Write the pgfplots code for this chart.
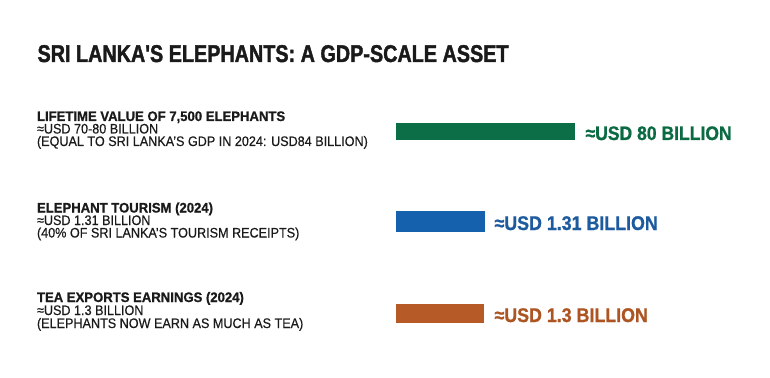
\documentclass[border=0pt]{standalone}
\usepackage{pgfplots}
\pgfplotsset{compat=1.18}
\usepackage{fontspec}
\setmainfont{Liberation Sans}[FakeStretch=0.914, UprightFeatures={FakeBold=0.4}, BoldFeatures={FakeBold=0.9}]
\newfontfamily\boldlbl{Liberation Sans}[FakeStretch=0.95, BoldFeatures={FakeBold=0.9}]
\newfontfamily\valfont{Liberation Sans}[FakeStretch=0.9, BoldFeatures={FakeBold=0.8}]
\newfontfamily\titlefont{Liberation Sans}[FakeStretch=0.818, BoldFeatures={FakeBold=1.6}]
\definecolor{gbar}{HTML}{0B6E47}
\definecolor{bbar}{HTML}{1661AD}
\definecolor{obar}{HTML}{B65A27}
\definecolor{gtxt}{HTML}{0A6A42}
\definecolor{btxt}{HTML}{1D5A9E}
\definecolor{otxt}{HTML}{AD5522}
\definecolor{ink}{HTML}{1A1A1A}
\tikzset{lbl/.style={anchor=base west, inner sep=0pt, outer sep=0pt, text=ink, font=\fontsize{13.8}{14}\selectfont, text height=10pt, text depth=2pt},
         blbl/.style={lbl, font=\boldlbl\fontsize{13.8}{14}\selectfont\bfseries}}
\begin{document}
\begin{tikzpicture}
\fill[white] (0,0) rectangle (770pt,377pt);
\begin{axis}[
  at={(0pt,0pt)}, anchor=south west,
  scale only axis, width=770pt, height=377pt,
  xmin=-396, xmax=374, ymin=0, ymax=377, y dir=reverse,
  axis lines=none, clip=false,
  every node/.style={inner sep=0pt, outer sep=0pt},
]
% bars (visual lengths as drawn in the infographic)
\addplot[xbar, bar shift=0pt, bar width=17pt, fill=gbar, draw=none] coordinates {(179,131.5)};
\addplot[xbar, bar shift=0pt, bar width=21pt, fill=bbar, draw=none] coordinates {(89,221)};
\addplot[xbar, bar shift=0pt, bar width=19pt, fill=obar, draw=none] coordinates {(88,313)};
% title
\node[anchor=base west, text=ink, font=\titlefont\fontsize{24.2}{26}\selectfont\bfseries] at (axis cs:-362,62) {SRI LANKA'S ELEPHANTS: A GDP-SCALE ASSET};
% block 1
\node[blbl] at (axis cs:-359,121) {LIFETIME VALUE OF 7,500 ELEPHANTS};
\node[lbl] at (axis cs:-359,133.5) {≈USD 70-80 BILLION};
\node[lbl] at (axis cs:-359,146) {(EQUAL TO SRI LANKA'S GDP IN 2024: USD84 BILLION)};
% block 2
\node[blbl] at (axis cs:-359,212.5) {ELEPHANT TOURISM (2024)};
\node[lbl] at (axis cs:-359,225) {≈USD 1.31 BILLION};
\node[lbl] at (axis cs:-359,237.5) {(40\% OF SRI LANKA'S TOURISM RECEIPTS)};
% block 3
\node[blbl] at (axis cs:-359,302) {TEA EXPORTS EARNINGS (2024)};
\node[lbl] at (axis cs:-359,315) {≈USD 1.3 BILLION};
\node[lbl] at (axis cs:-359,328) {(ELEPHANTS NOW EARN AS MUCH AS TEA)};
% value labels
\node[anchor=base west, text=gtxt, font=\valfont\fontsize{19.5}{21}\selectfont\bfseries] at (axis cs:186,140) {≈USD 80 BILLION};
\node[anchor=base west, text=btxt, font=\valfont\fontsize{19.8}{21}\selectfont\bfseries] at (axis cs:95,230) {≈USD 1.31 BILLION};
\node[anchor=base west, text=otxt, font=\valfont\fontsize{19.8}{21}\selectfont\bfseries] at (axis cs:95,322) {≈USD 1.3 BILLION};
\end{axis}
\end{tikzpicture}
\end{document}
